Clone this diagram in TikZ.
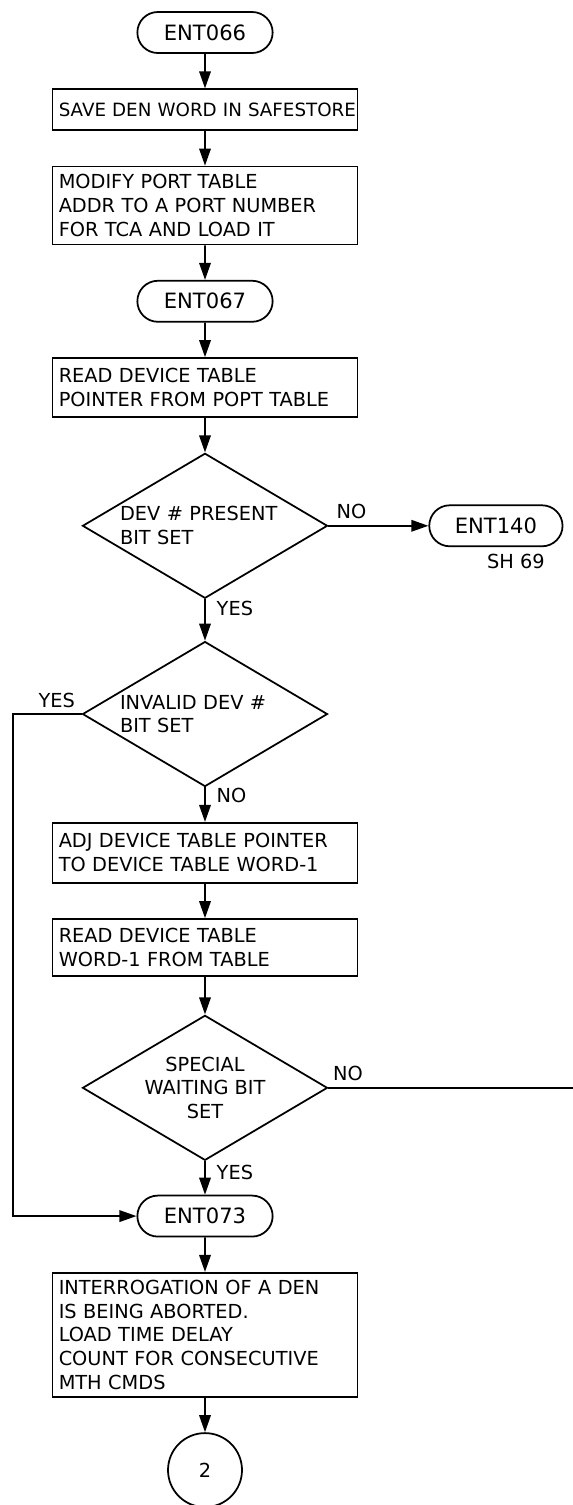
\documentclass[tikz,border=0pt]{standalone}
\usepackage{fontspec}
\setmainfont{DejaVu Sans}
\usetikzlibrary{arrows.meta,positioning,shapes.geometric,shapes.misc}

\begin{document}
\begin{tikzpicture}[node distance=6.9mm,line width=1pt,font=\fontsize{11}{13.5}\selectfont,->,>={Triangle[length=3.4mm,width=2.3mm]},
box/.style={draw,align=left,minimum width=6.1cm,text width=5.85cm,inner xsep=0.125cm,inner ysep=2pt},
term/.style={draw,rounded rectangle,minimum width=2.94cm,minimum height=0.82cm,inner ysep=1pt,font=\fontsize{12}{13}\selectfont},
dec/.style={draw,diamond,minimum width=4.9cm,minimum height=2.9cm,inner sep=0pt}]
\useasboundingbox (0,0) rectangle (11.46,-30.1);
\node[term] (ent066) at (4.1,-0.65) {ENT066};
\node[box,minimum height=0.82cm,font=\fontsize{10.4}{13.5}\selectfont,below=of ent066] (save) {\mbox{SAVE DEN WORD IN SAFESTORE}};
\node[box,minimum height=1.56cm,below=of save] (modify) {MODIFY PORT TABLE\\ADDR TO A PORT NUMBER\\FOR TCA AND LOAD IT};
\node[term,below=of modify] (ent067) {ENT067};
\node[box,minimum height=1.18cm,below=of ent067] (rdptr) {READ DEVICE TABLE\\POINTER FROM POPT TABLE};
\node[dec,below=of rdptr,label={[align=left,text width=3.4cm]center:{DEV \# PRESENT\\BIT SET}}] (present) {};
\node[term,minimum width=2.9cm,right=2cm of present] (ent140) {ENT140};
\node[below=0mm of ent140,xshift=4mm] (sh69) {SH 69};
\node[dec,below=8.3mm of present,label={[align=left,text width=3.4cm]center:{INVALID DEV \#\\BIT SET}}] (invalid) {};
\node[box,minimum height=1.2cm,below=of invalid] (adjptr) {ADJ DEVICE TABLE POINTER\\TO DEVICE TABLE WORD-1};
\node[box,minimum height=1.14cm,below=of adjptr] (rdword) {READ DEVICE TABLE\\WORD-1 FROM TABLE};
\node[dec,below=7.5mm of rdword,label={[align=center]center:{SPECIAL\\WAITING BIT\\SET}}] (special) {};
\node[term,below=6.7mm of special] (ent073) {ENT073};
\node[box,minimum height=2.48cm,below=of ent073] (abort) {INTERROGATION OF A DEN\\IS BEING ABORTED.\\LOAD TIME DELAY\\COUNT FOR CONSECUTIVE\\MTH CMDS};
\node[draw,circle,minimum size=1.48cm,below=of abort] (conn2) {2};
\draw (ent066)--(save);
\draw (save)--(modify);
\draw (modify)--(ent067);
\draw (ent067)--(rdptr);
\draw (rdptr)--(present);
\draw (present)--node[pos=0.23,above]{NO}(ent140);
\draw (present)--node[pos=0.23,right,xshift=1mm]{YES}(invalid);
\draw (invalid.west)--node[pos=0.36,above]{YES}++(-1.38,0)|-(ent073);
\draw (invalid)--node[pos=0.23,right,xshift=1mm]{NO}(adjptr);
\draw (adjptr)--(rdword);
\draw (rdword)--(special);
\draw[-] (special.east)--node[pos=0.08,above]{NO}++(4.92,0);
\draw (special)--node[pos=0.34,right,xshift=1mm]{YES}(ent073);
\draw (ent073)--(abort);
\draw (abort)--(conn2);
\end{tikzpicture}
\end{document}
